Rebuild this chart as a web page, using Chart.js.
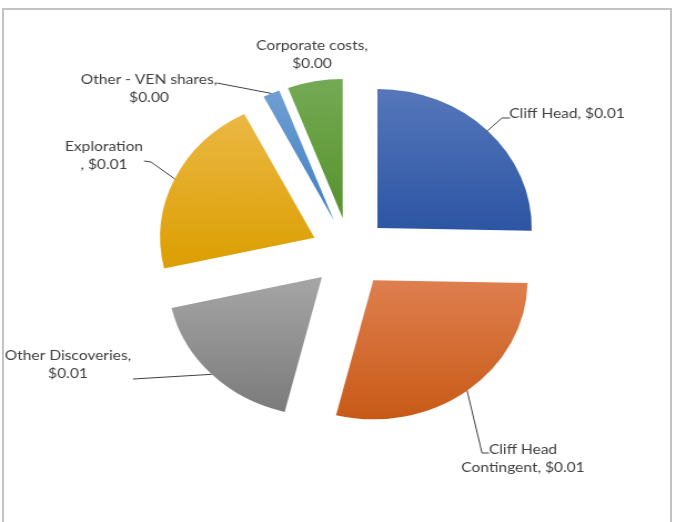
<!DOCTYPE html>
<html>
<head>
<meta charset="utf-8">
<script src="https://cdn.jsdelivr.net/npm/chart.js@4.4.0/dist/chart.umd.min.js"></script>
<style>
  html, body { margin: 0; padding: 0; background: #fff; }
  body { width: 677px; height: 522px; overflow: hidden; position: relative; }
  #marco { position: absolute; left: 2px; top: 8px; width: 670px; height: 540px; border: 2px solid #c3c3c3; box-sizing: border-box; }
  #caja { position: absolute; left: 0; top: 0; width: 610px; height: 522px; transform: scaleX(1.11); transform-origin: 0 0; }
</style>
</head>
<body>
<div id="marco"></div>
<div id="caja"><canvas id="pie" width="610" height="522"></canvas></div>
<script>
// datos
var categorias = ['Cliff Head', 'Cliff Head Contingent', 'Other Discoveries', 'Exploration', 'Other - VEN shares', 'Corporate costs'];
var valores = [0.0101, 0.0114, 0.0070, 0.0084, 0.0007, 0.0023];

// colores de cada porcion (arriba -> abajo del degradado)
var coloresArriba = ['#5677bb', '#df7f4f', '#a6a6a6', '#ebb844', '#6f9fd3', '#74aa55'];
var coloresAbajo = ['#2c55a3', '#c85a17', '#7b7b7b', '#dc9e00', '#3f7fc2', '#57922c'];

var S = 1.11;          // estiramiento horizontal del dibujo
var separacion = 35;   // cuanto se separa cada porcion del centro

// donde va cada texto (coordenadas de pantalla) y el quiebre de la guia
var etiquetas = [
    { x: 567, y: 113, ancho: 200, guia: [[502, 118], [510, 118]] },
    { x: 523, y: 449, ancho: 125, guia: [[482, 453], [489, 453]] },
    { x: 68, y: 355, ancho: 145, guia: [[133, 379]] },
    { x: 104, y: 146, ancho: 90, sepAbajo: true, guia: [[151, 162], [144, 161]] },
    { x: 149, y: 79, ancho: 140, guia: [[217, 83]] },
    { x: 312, y: 45, ancho: 115, guia: [] }
];

function partir(ctx, i) {
    var valor = '$' + valores[i].toFixed(2);
    if (etiquetas[i].sepAbajo) {
        return [categorias[i], ', ' + valor];
    }
    var palabras = (categorias[i] + ', ' + valor).split(' ');
    var lineas = [];
    var actual = '';
    for (var k = 0; k < palabras.length; k++) {
        var prueba = actual ? actual + ' ' + palabras[k] : palabras[k];
        if (actual && ctx.measureText(prueba).width * S > etiquetas[i].ancho) {
            lineas.push(actual);
            actual = palabras[k];
        } else {
            actual = prueba;
        }
    }
    lineas.push(actual);
    return lineas;
}

var explotar = {
    id: 'explotar',
    beforeDatasetDraw: function (chart, args) {
        var ctx = chart.ctx;
        args.meta.data.forEach(function (arc, i) {
            var mid = (arc.startAngle + arc.endAngle) / 2;
            var arriba = arc.y, abajo = arc.y;
            for (var k = 0; k <= 24; k++) {
                var a = arc.startAngle + (arc.endAngle - arc.startAngle) * k / 24;
                var yy = arc.y + Math.sin(a) * arc.outerRadius;
                arriba = Math.min(arriba, yy);
                abajo = Math.max(abajo, yy);
            }
            var grad = ctx.createLinearGradient(0, arriba, 0, abajo);
            grad.addColorStop(0, coloresArriba[i]);
            grad.addColorStop(1, coloresAbajo[i]);
            var opts = arc.options;
            arc.options = Object.assign({}, opts, { backgroundColor: grad });
            ctx.save();
            ctx.translate(Math.cos(mid) * separacion, Math.sin(mid) * separacion);
            arc.draw(ctx);
            ctx.restore();
            arc.options = opts;
        });
        return false;
    }
};

var rotulos = {
    id: 'rotulos',
    afterDraw: function (chart) {
        var ctx = chart.ctx;
        var meta = chart.getDatasetMeta(0);
        ctx.save();
        ctx.font = '14px Lato';
        ctx.fillStyle = '#404040';
        ctx.strokeStyle = '#404040';
        ctx.lineWidth = 1;
        ctx.textAlign = 'center';
        ctx.textBaseline = 'middle';
        meta.data.forEach(function (arc, i) {
            var e = etiquetas[i];
            var mid = (arc.startAngle + arc.endAngle) / 2;
            var r = separacion + arc.outerRadius;
            if (e.guia.length) {
                ctx.beginPath();
                ctx.moveTo(arc.x + Math.cos(mid) * r, arc.y + Math.sin(mid) * r);
                e.guia.forEach(function (p) { ctx.lineTo(p[0] / S, p[1]); });
                ctx.stroke();
            }
            var lineas = partir(ctx, i);
            lineas.forEach(function (t, k) {
                ctx.fillText(t, e.x / S, e.y + k * 18);
            });
        });
        ctx.restore();
    }
};

var ctx = document.getElementById('pie').getContext('2d');
var grafico = new Chart(ctx, {
    type: 'pie',
    data: {
        labels: categorias,
        datasets: [{
            data: valores,
            backgroundColor: coloresAbajo,
            borderWidth: 0
        }]
    },
    options: {
        responsive: false,
        animation: false,
        radius: 139,
        layout: { padding: { left: 20, right: 0, top: 0, bottom: 17 } },
        plugins: {
            legend: { display: false },
            tooltip: { enabled: false }
        }
    },
    plugins: [explotar, rotulos]
});
</script>
</body>
</html>
